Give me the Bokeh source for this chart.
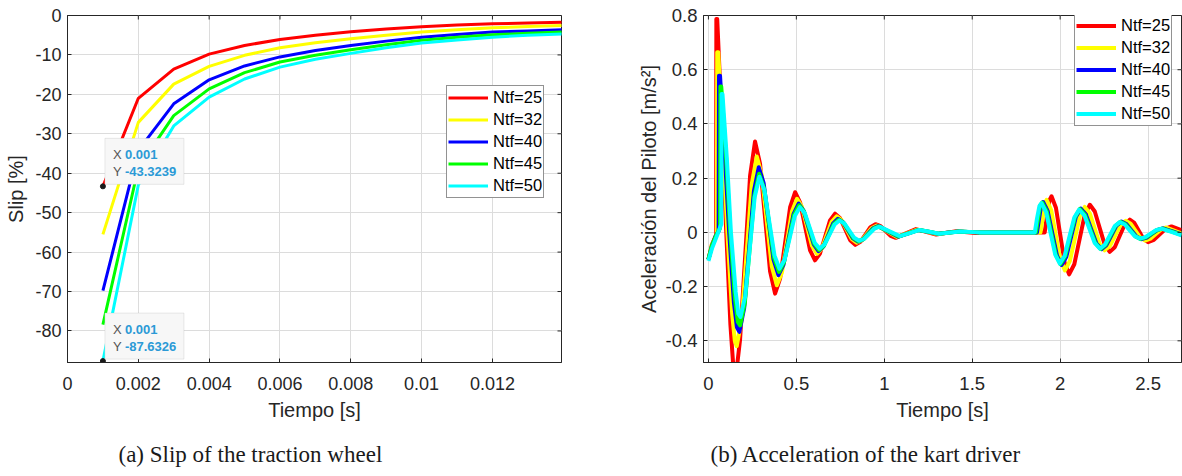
import math
from bokeh.plotting import figure
from bokeh.layouts import row
from bokeh.models import (Legend, LegendItem, FixedTicker, Range1d, Label, BoxAnnotation, Title)
from bokeh.embed import file_html
from bokeh.resources import INLINE

# ---------------- data ----------------
series_labels = ["Ntf=25", "Ntf=32", "Ntf=40", "Ntf=45", "Ntf=50"]
series_colors = ["#ff0000", "#ffff00", "#0000ff", "#00ff00", "#00ffff"]

# (a) slip of the traction wheel
slip_time = [0.001, 0.002, 0.003, 0.004, 0.005, 0.006, 0.007, 0.008, 0.009, 0.010, 0.011, 0.012, 0.013, 0.014]
slip_25 = [-43.32, -21.0, -13.6, -9.8, -7.6, -6.1, -5.0, -4.1, -3.4, -2.85, -2.4, -2.1, -1.9, -1.7]
slip_32 = [-55.5, -27.1, -17.4, -12.9, -10.1, -8.2, -6.9, -5.9, -5.0, -4.2, -3.6, -3.1, -2.8, -2.5]
slip_40 = [-69.8, -34.2, -22.4, -16.3, -12.8, -10.5, -8.9, -7.6, -6.5, -5.5, -4.8, -4.2, -3.9, -3.6]
slip_45 = [-78.4, -38.6, -25.4, -18.6, -14.5, -11.8, -10.1, -8.7, -7.4, -6.3, -5.5, -4.9, -4.5, -4.2]
slip_50 = [-87.63, -43.0, -28.0, -20.7, -16.1, -13.1, -11.1, -9.6, -8.2, -7.0, -6.2, -5.5, -5.0, -4.65]

slip_xticks = [0, 0.002, 0.004, 0.006, 0.008, 0.010, 0.012]
slip_xtick_labels = ["0", "0.002", "0.004", "0.006", "0.008", "0.01", "0.012"]
slip_yticks = [-80, -70, -60, -50, -40, -30, -20, -10, 0]
slip_ytick_labels = ["-80", "-70", "-60", "-50", "-40", "-30", "-20", "-10", "0"]

tip_x = [0.001, 0.001]
tip_y = [-43.3239, -87.6326]
tip_x_text = ["0.001", "0.001"]
tip_y_text = ["-43.3239", "-87.6326"]

# (b) acceleration of the kart driver
acc_t_25 = [0.000, 0.020, 0.044, 0.045, 0.050, 0.075, 0.100, 0.125, 0.140, 0.152, 0.165, 0.180, 0.2085, 0.237,
            0.265, 0.2935, 0.322, 0.3505, 0.379, 0.4075, 0.436, 0.4645, 0.493, 0.521, 0.5495, 0.578, 0.606,
            0.6345, 0.663, 0.6915, 0.720, 0.749, 0.7775, 0.806, 0.835, 0.864, 0.8925, 0.921, 0.950, 0.979,
            1.0075, 1.036, 1.065, 1.1225, 1.180, 1.2375, 1.295, 1.410, 1.520, 1.600, 1.750, 1.912, 1.925,
            1.940, 1.951, 1.976, 2.001, 2.026, 2.051, 2.0805, 2.110, 2.1395, 2.169, 2.197, 2.2255, 2.254,
            2.282, 2.3105, 2.339, 2.3675, 2.396, 2.422, 2.448, 2.474, 2.500, 2.533, 2.5665, 2.600, 2.633, 2.690]
acc_25 = [-0.100, -0.045, -0.010, 0.787, 0.787, 0.420, 0.020, -0.340, -0.480, -0.520, -0.480, -0.395, -0.0925,
          0.210, 0.335, 0.253, 0.0545, -0.144, -0.226, -0.171, -0.039, 0.093, 0.148, 0.111, 0.0225, -0.066,
          -0.103, -0.078, -0.017, 0.044, 0.069, 0.052, 0.0115, -0.029, -0.046, -0.035, -0.008, 0.019, 0.030,
          0.023, 0.005, -0.013, -0.020, -0.004, 0.012, 0.002, -0.008, 0.004, -0.002, 0.0, 0.0, 0.0, 0.060,
          0.120, 0.133, 0.091, -0.011, -0.113, -0.155, -0.1175, -0.0265, 0.064, 0.102, 0.077, 0.015, -0.047,
          -0.072, -0.055, -0.0125, 0.030, 0.047, 0.035, 0.0055, -0.024, -0.036, -0.0275, -0.007, 0.0135,
          0.022, 0.008]

acc_t_32 = [0.000, 0.020, 0.048, 0.050, 0.056, 0.080, 0.108, 0.135, 0.150, 0.161, 0.1895, 0.218, 0.2465, 0.275,
            0.3035, 0.332, 0.3605, 0.389, 0.418, 0.4465, 0.475, 0.504, 0.532, 0.5605, 0.589, 0.617, 0.645,
            0.673, 0.701, 0.729, 0.7575, 0.786, 0.8145, 0.843, 0.8715, 0.9005, 0.929, 0.958, 1.015, 1.072,
            1.130, 1.188, 1.244, 1.300, 1.415, 1.530, 1.700, 1.888, 1.900, 1.912, 1.923, 1.949, 1.975, 2.001,
            2.027, 2.055, 2.0835, 2.112, 2.140, 2.168, 2.1965, 2.225, 2.253, 2.283, 2.313, 2.343, 2.373,
            2.4005, 2.428, 2.4555, 2.483, 2.513, 2.5435, 2.574, 2.604, 2.690]
acc_32 = [-0.100, -0.045, -0.005, 0.664, 0.664, 0.350, 0.000, -0.300, -0.400, -0.420, -0.318, -0.070, 0.178,
          0.280, 0.211, 0.0425, -0.126, -0.195, -0.148, -0.0355, 0.077, 0.124, 0.094, 0.0225, -0.049, -0.079,
          -0.059, -0.010, 0.039, 0.059, 0.045, 0.0105, -0.024, -0.038, -0.029, -0.0065, 0.016, 0.025, 0.004,
          -0.017, -0.0035, 0.010, 0.002, -0.006, 0.003, 0.0, 0.0, 0.0, 0.050, 0.105, 0.120, 0.082, -0.010,
          -0.102, -0.140, -0.106, -0.023, 0.060, 0.094, 0.071, 0.014, -0.043, -0.066, -0.050, -0.0115, 0.027,
          0.043, 0.032, 0.0065, -0.019, -0.030, -0.023, -0.006, 0.011, 0.018, -0.004]

acc_t_40 = [0.000, 0.020, 0.040, 0.058, 0.060, 0.066, 0.090, 0.118, 0.145, 0.162, 0.176, 0.2035, 0.231, 0.2585,
            0.286, 0.314, 0.342, 0.370, 0.398, 0.427, 0.4555, 0.484, 0.513, 0.541, 0.5695, 0.598, 0.626, 0.654,
            0.6815, 0.709, 0.737, 0.765, 0.7935, 0.822, 0.850, 0.879, 0.9075, 0.936, 0.965, 1.0225, 1.080,
            1.1375, 1.195, 1.250, 1.305, 1.420, 1.530, 1.700, 1.868, 1.880, 1.892, 1.903, 1.929, 1.9555, 1.982,
            2.008, 2.035, 2.0625, 2.090, 2.117, 2.1465, 2.176, 2.2055, 2.235, 2.263, 2.2915, 2.320, 2.348,
            2.3765, 2.405, 2.4335, 2.462, 2.493, 2.5235, 2.554, 2.585, 2.640, 2.690]
acc_40 = [-0.100, -0.050, -0.015, 0.005, 0.578, 0.578, 0.320, 0.000, -0.260, -0.350, -0.367, -0.278, -0.0635,
          0.151, 0.240, 0.182, 0.041, -0.100, -0.158, -0.119, -0.026, 0.067, 0.106, 0.080, 0.0185, -0.043,
          -0.069, -0.052, -0.0095, 0.033, 0.050, 0.038, 0.008, -0.022, -0.034, -0.026, -0.0055, 0.015, 0.023,
          0.0035, -0.016, -0.0035, 0.009, 0.002, -0.005, 0.003, 0.0, 0.0, 0.0, 0.050, 0.100, 0.112, 0.078,
          -0.004, -0.086, -0.120, -0.090, -0.016, 0.058, 0.088, 0.066, 0.013, -0.040, -0.062, -0.047, -0.011,
          0.025, 0.040, 0.0305, 0.0075, -0.0155, -0.025, -0.019, -0.005, 0.009, 0.015, 0.004, -0.008]

acc_t_45 = [0.000, 0.020, 0.045, 0.066, 0.068, 0.073, 0.100, 0.124, 0.150, 0.167, 0.180, 0.207, 0.234, 0.261,
            0.288, 0.316, 0.3445, 0.373, 0.401, 0.430, 0.4585, 0.487, 0.516, 0.544, 0.5725, 0.601, 0.629, 0.657,
            0.685, 0.713, 0.741, 0.769, 0.797, 0.825, 0.853, 0.882, 0.9105, 0.939, 0.968, 1.0255, 1.083, 1.1405,
            1.198, 1.254, 1.310, 1.425, 1.535, 1.700, 1.862, 1.874, 1.887, 1.898, 1.924, 1.950, 1.976, 2.002,
            2.0295, 2.057, 2.0845, 2.112, 2.1415, 2.171, 2.2005, 2.230, 2.258, 2.2865, 2.315, 2.343, 2.3715,
            2.400, 2.4285, 2.457, 2.488, 2.5185, 2.549, 2.580, 2.635, 2.690]
acc_45 = [-0.100, -0.050, -0.010, 0.015, 0.538, 0.538, 0.280, 0.000, -0.240, -0.330, -0.343, -0.261, -0.0635,
          0.134, 0.216, 0.163, 0.035, -0.093, -0.146, -0.110, -0.023, 0.064, 0.100, 0.076, 0.0175, -0.041,
          -0.065, -0.049, -0.009, 0.031, 0.047, 0.035, 0.007, -0.021, -0.033, -0.025, -0.0055, 0.014, 0.022,
          0.0035, -0.015, -0.003, 0.009, 0.002, -0.005, 0.003, 0.0, 0.0, 0.0, 0.050, 0.100, 0.110, 0.077,
          -0.0035, -0.084, -0.117, -0.087, -0.0155, 0.056, 0.086, 0.0645, 0.0125, -0.040, -0.061, -0.0465,
          -0.011, 0.0245, 0.039, 0.030, 0.0075, -0.015, -0.024, -0.0185, -0.005, 0.0085, 0.014, 0.0025, -0.009]

acc_t_50 = [0.000, 0.020, 0.050, 0.073, 0.075, 0.080, 0.105, 0.128, 0.155, 0.170, 0.182, 0.209, 0.236, 0.263,
            0.290, 0.3185, 0.347, 0.3755, 0.404, 0.433, 0.462, 0.491, 0.520, 0.548, 0.576, 0.604, 0.632, 0.660,
            0.6885, 0.717, 0.745, 0.773, 0.801, 0.829, 0.857, 0.886, 0.9145, 0.943, 0.972, 1.030, 1.088, 1.144,
            1.200, 1.256, 1.312, 1.430, 1.540, 1.700, 1.856, 1.868, 1.882, 1.894, 1.920, 1.946, 1.972, 1.998,
            2.0255, 2.053, 2.0805, 2.108, 2.1375, 2.167, 2.1965, 2.226, 2.254, 2.2825, 2.311, 2.339, 2.3675,
            2.396, 2.4245, 2.453, 2.484, 2.5145, 2.545, 2.576, 2.633, 2.690]
acc_50 = [-0.105, -0.060, -0.010, 0.030, 0.510, 0.510, 0.270, 0.000, -0.220, -0.300, -0.312, -0.237, -0.0535,
          0.130, 0.205, 0.155, 0.0355, -0.085, -0.134, -0.101, -0.0205, 0.060, 0.093, 0.071, 0.0165, -0.038,
          -0.060, -0.045, -0.008, 0.029, 0.044, 0.033, 0.0065, -0.020, -0.031, -0.0235, -0.005, 0.0135, 0.021,
          0.0035, -0.014, -0.0025, 0.009, 0.002, -0.005, 0.003, 0.0, 0.0, 0.0, 0.050, 0.097, 0.108, 0.075,
          -0.0035, -0.082, -0.115, -0.086, -0.0155, 0.055, 0.084, 0.063, 0.012, -0.039, -0.060, -0.0455,
          -0.011, 0.0235, 0.038, 0.029, 0.0075, -0.014, -0.023, -0.0175, -0.0045, 0.0085, 0.014, 0.0015, -0.011]

acc_xticks = [0, 0.5, 1.0, 1.5, 2.0, 2.5]
acc_xtick_labels = ["0", "0.5", "1", "1.5", "2", "2.5"]
acc_yticks = [-0.4, -0.2, 0, 0.2, 0.4, 0.6, 0.8]
acc_ytick_labels = ["-0.4", "-0.2", "0", "0.2", "0.4", "0.6", "0.8"]

# ---------------- styling ----------------
AX = "#262626"
GRID = "#dcdcdc"
SANS = "Liberation Sans"
SERIF = "Liberation Serif"


def style_axis(ax, ticks, labels, fs, standoff):
    ax.ticker = FixedTicker(ticks=ticks)
    ax.major_label_overrides = {t: l for t, l in zip(ticks, labels)}
    ax.major_label_text_font = SANS
    ax.major_label_text_font_size = fs
    ax.major_label_text_color = AX
    ax.major_label_standoff = standoff
    ax.major_tick_in = 4
    ax.major_tick_out = 0
    ax.minor_tick_line_color = None
    ax.axis_line_color = AX
    ax.major_tick_line_color = AX
    ax.axis_label_text_font = SANS
    ax.axis_label_text_font_style = "normal"
    ax.axis_label_text_color = AX


def add_box_ticks(p, xticks, yticks, xr, yr):
    # inward tick marks on the top and right edges of the box (clipped to the frame)
    p.scatter(xticks, [yr.end] * len(xticks), marker="dash", angle=math.pi / 2, size=8,
              line_color=AX, line_width=1)
    p.scatter([xr.end] * len(yticks), yticks, marker="dash", size=8, line_color=AX, line_width=1)


def make_legend(renderers, loc):
    items = [LegendItem(label=lab, renderers=[r]) for lab, r in zip(series_labels, renderers)]
    leg = Legend(items=items, location=loc, label_text_font=SANS, label_text_font_size="16.5px",
                 label_text_color="#000000", glyph_width=40, glyph_height=21, label_height=21,
                 spacing=1, padding=1, label_standoff=5, margin=0,
                 border_line_color=AX, border_line_width=1, background_fill_color="white",
                 background_fill_alpha=1.0)
    return leg


# ---------------- figure (a) ----------------
sx0, sx1, sy0, sy1 = 0.0, 0.01395, -88.0, 0.0
FW1, FH1 = 494, 347
xr1, yr1 = Range1d(sx0, sx1), Range1d(sy0, sy1)
p1 = figure(frame_width=FW1, frame_height=FH1, x_range=xr1, y_range=yr1,
            output_backend="svg", toolbar_location=None,
            min_border_left=67, min_border_right=39, min_border_top=15, min_border_bottom=114)
p1.xaxis.axis_label = "Tiempo [s]"
p1.yaxis.axis_label = "Slip [%]"
style_axis(p1.xaxis[0], slip_xticks, slip_xtick_labels, "18px", 14)
style_axis(p1.yaxis[0], slip_yticks, slip_ytick_labels, "18px", 6)
p1.xaxis.axis_label_text_font_size = "20px"
p1.yaxis.axis_label_text_font_size = "20px"
p1.xaxis.axis_label_standoff = 6
p1.yaxis.axis_label_standoff = 5
p1.grid.grid_line_color = GRID
p1.outline_line_color = AX
p1.background_fill_color = "white"
p1.border_fill_color = "white"

slip_series = [slip_25, slip_32, slip_40, slip_45, slip_50]
r1 = []
for ys, c in zip(slip_series, series_colors):
    r1.append(p1.line(slip_time, ys, line_color=c, line_width=3, line_join="round"))
add_box_ticks(p1, slip_xticks, slip_yticks, xr1, yr1)
p1.add_layout(make_legend(r1, (379, 164)))

# data tips
dxp = (sx1 - sx0) / FW1
dyp = (sy1 - sy0) / FH1
for tx, ty, txt, tyt in zip(tip_x, tip_y, tip_x_text, tip_y_text):
    p1.add_layout(BoxAnnotation(left=tx + 2 * dxp, right=tx + 81 * dxp, bottom=ty + 2 * dyp,
                                top=ty + 48 * dyp, fill_color="#f7f7f7", fill_alpha=1.0,
                                line_color="#b8b8b8", line_width=1))
    for lab, xo, yo, col, sty in [("X", 10, 32, "#555555", "normal"), (txt, 22, 32, "#2b9ad6", "bold"),
                                  ("Y", 10, 15, "#555555", "normal"), (tyt, 22, 15, "#2b9ad6", "bold")]:
        p1.add_layout(Label(x=tx, y=ty, x_offset=xo, y_offset=yo, text=lab, text_font=SANS,
                            text_font_size="13px", text_color=col, text_font_style=sty,
                            text_baseline="middle", text_align="left"))
p1.scatter(tip_x, tip_y, size=5, color="#1a1a1a")

cap1 = Title(text="(a) Slip of the traction wheel", align="left", offset=51, standoff=33,
             text_font=SERIF, text_font_size="23px", text_font_style="normal", text_color="#1a1a1a")
p1.add_layout(cap1, "below")

# ---------------- figure (b) ----------------
ax0, ax1, ay0, ay1 = -0.028, 2.69, -0.48, 0.8
FW2, FH2 = 478, 347
xr2, yr2 = Range1d(ax0, ax1), Range1d(ay0, ay1)
p2 = figure(frame_width=FW2, frame_height=FH2, x_range=xr2, y_range=yr2,
            output_backend="svg", toolbar_location=None,
            min_border_left=103, min_border_right=1, min_border_top=15, min_border_bottom=114)
p2.xaxis.axis_label = "Tiempo [s]"
p2.yaxis.axis_label = "Aceleración del Piloto [m/s²]"
style_axis(p2.xaxis[0], acc_xticks, acc_xtick_labels, "18.5px", 14)
style_axis(p2.yaxis[0], acc_yticks, acc_ytick_labels, "18.5px", 6)
p2.xaxis.axis_label_text_font_size = "20px"
p2.yaxis.axis_label_text_font_size = "20px"
p2.xaxis.axis_label_standoff = 6
p2.yaxis.axis_label_standoff = 3
p2.grid.grid_line_color = GRID
p2.outline_line_color = AX
p2.background_fill_color = "white"
p2.border_fill_color = "white"

acc_series = [(acc_t_25, acc_25), (acc_t_32, acc_32), (acc_t_40, acc_40), (acc_t_45, acc_45), (acc_t_50, acc_50)]
r2 = []
for (ts, ys), c in zip(acc_series, series_colors):
    r2.append(p2.line(ts, ys, line_color=c, line_width=4, line_join="round"))
add_box_ticks(p2, acc_xticks, acc_yticks, xr2, yr2)
p2.add_layout(make_legend(r2, (371, 236)))

cap2 = Title(text="(b) Acceleration of the kart driver", align="left", offset=7, standoff=33,
             text_font=SERIF, text_font_size="23px", text_font_style="normal", text_color="#1a1a1a")
p2.add_layout(cap2, "below")

layout = row(p1, p2)
open("out.html", "w").write(file_html(layout, INLINE))
